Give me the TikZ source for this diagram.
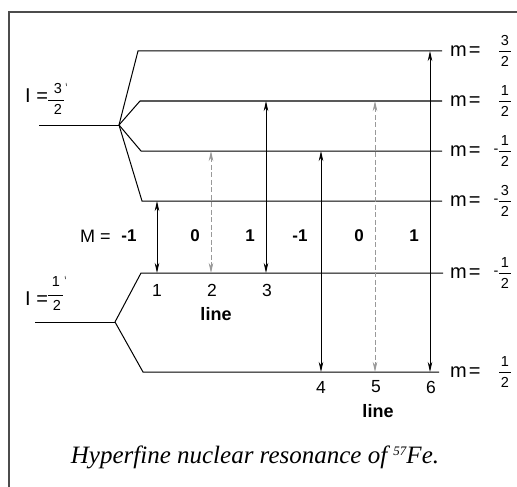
\documentclass[tikz,border=0pt]{standalone}
\usepackage{fontspec}
\setmainfont{Liberation Sans}
\newfontfamily\capfont{Liberation Serif}
\usetikzlibrary{arrows.meta}
\tikzset{
  frame/.style={line width=1.5pt, black!70},
  lev/.style={line width=1pt, black},
  tip/.tip={Stealth[length=10pt,width=4.5pt,inset=3pt]},
  trans/.style={line width=0.9pt, black, {tip}-{tip}},
  transdash/.style={trans, black!40, dash pattern=on 5pt off 2.5pt},
  mlab/.style={inner sep=0pt, font=\fontsize{20}{20}\selectfont},
  fr/.style={inner sep=0pt, font=\fontsize{14.5}{14.5}\selectfont},
  fbar/.style={line width=0.6pt},
  ilab/.style={inner sep=0pt, font=\fontsize{20}{20}\selectfont},
  mrow/.style={inner sep=0pt, font=\fontsize{18}{18}\selectfont},
  num/.style={inner sep=0pt, font=\fontsize{17.5}{17.5}\selectfont},
  bnum/.style={inner sep=0pt, font=\bfseries\fontsize{17}{17}\selectfont},
  linelab/.style={inner sep=0pt, font=\bfseries\fontsize{18}{18}\selectfont},
  caption/.style={inner sep=0pt, font=\capfont\itshape\fontsize{25}{25}\selectfont}
}
\begin{document}
\begin{tikzpicture}[x=1pt,y=-1pt]
\useasboundingbox (0,0) rectangle (517,487);
% frame (partially visible)
\draw[frame] (9,487) -- (9,12) -- (517,12);

% upper multiplet I=3/2
\coordinate (Us) at (39,125);
\coordinate (U) at (119,125);
\coordinate (U1a) at (138,51);  \coordinate (U1b) at (442,51);
\coordinate (U2a) at (140,101); \coordinate (U2b) at (442,101);
\coordinate (U3a) at (141,151); \coordinate (U3b) at (442,151);
\coordinate (U4a) at (142,201); \coordinate (U4b) at (442,201);
\draw[lev] (Us) -- (U);
\draw[lev] (U) -- (U1a) -- (U1b);
\draw[lev] (U) -- (U2a) -- (U2b);
\draw[lev] (U) -- (U3a) -- (U3b);
\draw[lev] (U) -- (U4a) -- (U4b);

% lower multiplet I=1/2
\coordinate (Ls) at (35,322);
\coordinate (L) at (115,322);
\coordinate (L1a) at (141,273); \coordinate (L1b) at (443,273);
\coordinate (L2a) at (143,372); \coordinate (L2b) at (439,372);
\draw[lev] (Ls) -- (L);
\draw[lev] (L) -- (L1a) -- (L1b);
\draw[lev] (L) -- (L2a) -- (L2b);

% transitions
\coordinate (t1) at (157,201); \coordinate (b1) at (157,273);
\coordinate (t2) at (211,151); \coordinate (b2) at (211,273);
\coordinate (t3) at (266,101); \coordinate (b3) at (266,273);
\coordinate (t4) at (321,151); \coordinate (b4) at (321,372);
\coordinate (t5) at (375,101); \coordinate (b5) at (375,372);
\coordinate (t6) at (430,51);  \coordinate (b6) at (430,372);
\draw[trans] (t1) -- (b1);
\draw[transdash] (t2) -- (b2);
\draw[trans] (t3) -- (b3);
\draw[trans] (t4) -- (b4);
\draw[transdash] (t5) -- (b5);
\draw[trans] (t6) -- (b6);

% M labels
\node[mrow, anchor=west] (Mlab) at (80,236) {M =};
\node[bnum] (M1) at (129,236) {-1};
\node[bnum] (M2) at (195,236) {0};
\node[bnum] (M3) at (250,236) {1};
\node[bnum] (M4) at (300,236) {-1};
\node[bnum] (M5) at (359,236) {0};
\node[bnum] (M6) at (414,236) {1};

% line numbers
\node[num] (n1) at (157,290) {1};
\node[num] (n2) at (212,290) {2};
\node[num] (n3) at (267,290) {3};
\node[linelab] (line1) at (216,314) {line};
\node[num] (n4) at (321,387) {4};
\node[num] (n5) at (376,387) {5};
\node[num] (n6) at (431,387) {6};
\node[linelab] (line2) at (378,411) {line};

% right labels
\foreach \y/\s/\n/\d/\k in {51//3/2/a, 101//1/2/b, 151/-/1/2/c, 201/-/3/2/d, 273/-/1/2/e, 372//1/2/f}{
  \node[mlab, anchor=west] (m\k) at (450,\y) {m\kern2pt=};
  \node[fr] (s\k) at (496,\y) {\s};
  \node[fr] (nu\k) at (505,\y-10) {\n};
  \node[fr] (de\k) at (505,\y+10) {\d};
  \draw[fbar] (499,\y) -- (511,\y);
}

% left labels
\node[ilab, anchor=west] (Iu) at (25,96) {I =};
\node[fr] (Iun) at (58,89) {3};
\node[fr] (Iud) at (58,109) {2};
\draw[fbar] (48,100) -- (64,100);
\draw[line width=0.5pt] (66,83) -- (66.5,86);

\node[ilab, anchor=west] (Il) at (25,299) {I =};
\node[fr] (Iln) at (56,282) {1};
\node[fr] (Ild) at (57,305) {2};
\draw[fbar] (48,295) -- (63,295);
\draw[line width=0.5pt] (65,276) -- (65.5,279);

% caption
\node[caption, anchor=base] (cap) at (255,463) {Hyperfine nuclear resonance of {\fontsize{13}{13}\selectfont\raisebox{8pt}{57}}Fe.};
\end{tikzpicture}
\end{document}
